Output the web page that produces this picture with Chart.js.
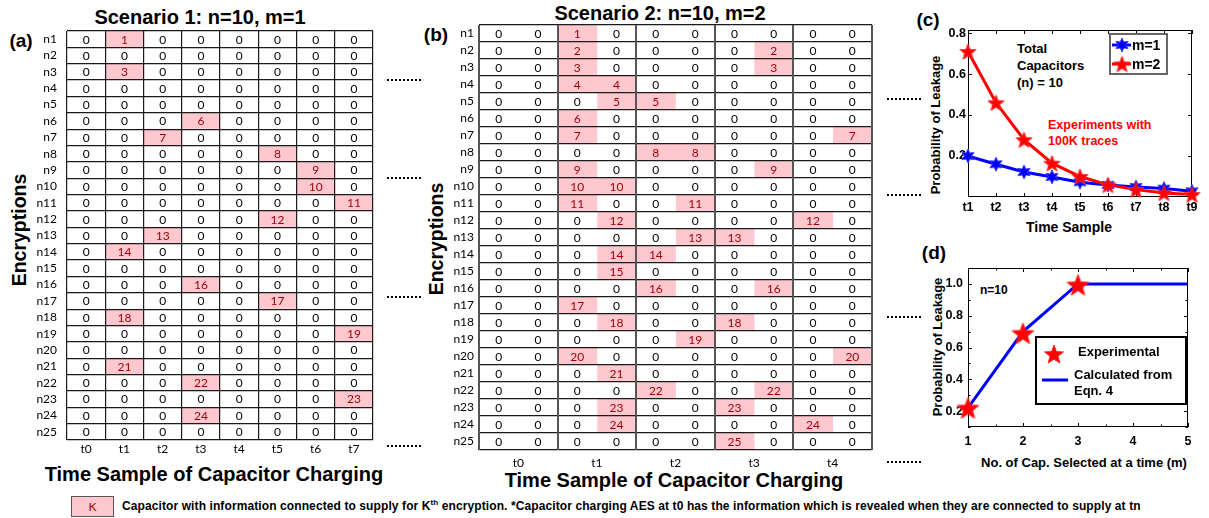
<!DOCTYPE html>
<html>
<head>
<meta charset="utf-8">
<title>Capacitor leakage scenarios</title>
<script src="https://cdn.jsdelivr.net/npm/chart.js@4.4.1/dist/chart.umd.min.js"></script>
<style>
  body { margin: 0; background: #fff; }
  #page { position: relative; width: 1209px; height: 518px; overflow: hidden; font-family: "Liberation Sans", Arial, sans-serif; }
  .box { position: absolute; }
  .t { position: absolute; white-space: nowrap; font-weight: bold; color: #000; line-height: 1; }
  .mid { transform: translate(-50%, -50%); }
  .rot { transform: translate(-50%, -50%) rotate(-90deg); }
  .lft { transform: translateY(-50%); }
  .dots { position: absolute; width: 34px; height: 0; border-top: 2px dotted #000; }
</style>
</head>
<body>
<div id="page">

  <!-- titles and panel letters -->
  <div class="t mid" style="left:200px;top:17px;font-size:20px">Scenario 1: n=10, m=1</div>
  <div class="t mid" style="left:660px;top:13px;font-size:20px">Scenario 2: n=10, m=2</div>
  <div class="t mid" style="left:21px;top:40px;font-size:19px">(a)</div>
  <div class="t mid" style="left:436px;top:34px;font-size:19px">(b)</div>
  <div class="t mid" style="left:928px;top:19px;font-size:19px">(c)</div>
  <div class="t mid" style="left:934px;top:252px;font-size:19px">(d)</div>

  <!-- axis titles -->
  <div class="t rot" style="left:20px;top:230px;font-size:19.5px">Encryptions</div>
  <div class="t rot" style="left:437px;top:239px;font-size:19.5px">Encryptions</div>
  <div class="t mid" style="left:214px;top:474px;font-size:20px">Time Sample of Capacitor Charging</div>
  <div class="t mid" style="left:674px;top:480px;font-size:20px">Time Sample of Capacitor Charging</div>
  <div class="t rot" style="left:935px;top:125px;font-size:13px">Probability of Leakage</div>
  <div class="t mid" style="left:1069px;top:227px;font-size:14px">Time Sample</div>
  <div class="t rot" style="left:937px;top:347px;font-size:13px">Probability of Leakage</div>
  <div class="t mid" style="left:1084px;top:462px;font-size:13px">No. of Cap. Selected at a time (m)</div>

  <!-- annotations -->
  <div class="t" style="left:1017px;top:40px;font-size:13px;line-height:17px">Total<br>Capacitors<br>(n) = 10</div>
  <div class="t" style="left:1048px;top:118px;font-size:12.5px;line-height:15.5px;color:#ff0000">Experiments with<br>100K traces</div>
  <div class="t lft" style="left:980px;top:290px;font-size:12px">n=10</div>

  <!-- dotted continuation marks -->
  <div class="dots" style="left:387px;top:79px"></div>
  <div class="dots" style="left:387px;top:177px"></div>
  <div class="dots" style="left:387px;top:296px"></div>
  <div class="dots" style="left:387px;top:445px"></div>
  <div class="dots" style="left:887px;top:98px"></div>
  <div class="dots" style="left:887px;top:194px"></div>
  <div class="dots" style="left:887px;top:316px"></div>
  <div class="dots" style="left:887px;top:461px"></div>

  <!-- bottom key -->
  <div class="box" style="left:71px;top:496px;width:41px;height:19px;background:#ffc7ce;border:1px solid #555;color:#9c0006;font:12px Lato;text-align:center;line-height:19px">K</div>
  <div class="t lft" style="left:122px;top:505px;font-size:12px;letter-spacing:0.1px">Capacitor with information connected to supply for K<sup style="font-size:8px">th</sup> encryption. *Capacitor charging AES at t0 has the information which is revealed when they are connected to supply at tn</div>

  <!-- charts -->
  <div class="box" style="left:37px;top:29px;width:338px;height:431px"><canvas id="tableA"></canvas></div>
  <div class="box" style="left:449px;top:23px;width:425px;height:449px"><canvas id="tableB"></canvas></div>
  <div class="box" style="left:938px;top:23px;width:264px;height:192px"><canvas id="chartC"></canvas></div>
  <div class="box" style="left:938px;top:263px;width:258px;height:186px"><canvas id="chartD"></canvas></div>
</div>

<script>
// ---- table data ----
const rowLabels = ['n1','n2','n3','n4','n5','n6','n7','n8','n9','n10','n11','n12','n13',
                   'n14','n15','n16','n17','n18','n19','n20','n21','n22','n23','n24','n25'];

// scenario 1: column (t index) where encryption k is revealed, -1 = none
const colsA = ['t0','t1','t2','t3','t4','t5','t6','t7'];
const leakA = [1,-1,1,-1,-1,3,2,5,6,6,7,5,2,1,-1,3,5,1,7,-1,1,3,7,3,-1];

// scenario 2: two capacitor columns per time sample
const colsB = ['t0','t1','t2','t3','t4'];
const leakB1 = [2,2,2,2,3,2,2,4,2,2,2,3,5,3,3,4,2,3,5,2,3,4,3,3,6];
const leakB2 = [-1,7,7,3,4,-1,9,5,7,3,5,8,6,4,-1,7,-1,6,-1,9,-1,7,6,8,-1];

// ---- panel (c) ----
const timeLabels = ['t1','t2','t3','t4','t5','t6','t7','t8','t9'];
const leakM1 = [0.20, 0.16, 0.122, 0.098, 0.072, 0.059, 0.049, 0.041, 0.028];
const leakM2 = [0.71, 0.46, 0.28, 0.165, 0.10, 0.059, 0.036, 0.02, 0.012];

// ---- panel (d) ----
const capSel = [1, 2, 3, 4, 5];
const leakCalc = [0.22, 0.70, 1.0, 1.0, 1.0];
const capExp = [1, 2, 3];
const leakExp = [0.22, 0.69, 0.995];

const PINK = '#ffc7ce';
const DARKRED = '#9c0006';

Chart.defaults.font.family = '"Liberation Sans", Arial, sans-serif';
Chart.defaults.color = '#000';

// filled star marker, points = 5 (pentagram) or 6 (hexagram)
function starImage(r, points, inner, fill, edge) {
    const cv = document.createElement('canvas');
    const s = Math.ceil(r * 2 + 4);
    cv.width = s; cv.height = s;
    const g = cv.getContext('2d');
    g.translate(s / 2, s / 2 + (points === 5 ? r * 0.1 : 0));
    g.beginPath();
    for (let i = 0; i < points * 2; i++) {
        const rr = i % 2 === 0 ? r : r * inner;
        const a = -Math.PI / 2 + i * Math.PI / points;
        g.lineTo(rr * Math.cos(a), rr * Math.sin(a));
    }
    g.closePath();
    g.fillStyle = fill; g.fill();
    g.lineWidth = 1; g.strokeStyle = edge; g.stroke();
    return cv;
}

// fixed axis sizes so the plot areas land where they should
function fixX(h) {
    return s => { s.height = h; s.paddingLeft = 0; s.paddingRight = 0; };
}
function fixY(w) {
    return s => { s.width = w; s.paddingTop = 0; s.paddingBottom = 0; };
}

// numbers inside the table cells
const cellText = {
    id: 'cellText',
    afterDatasetsDraw(chart) {
        const ctx = chart.ctx;
        ctx.save();
        ctx.font = '12px Lato';
        ctx.textAlign = 'center';
        ctx.textBaseline = 'middle';
        chart.data.datasets.forEach((ds, di) => {
            chart.getDatasetMeta(di).data.forEach((bar, ri) => {
                const v = ds.cellValues[ri];
                const p = bar.getCenterPoint();
                ctx.fillStyle = v ? DARKRED : '#000';
                ctx.fillText(String(v), p.x, p.y + 0.5);
            });
        });
        ctx.restore();
    }
};

function tableDatasets(nCols, leaks) {
    const sets = [];
    for (let c = 0; c < nCols; c++) {
        const vals = rowLabels.map((r, i) => leaks.some(l => l[i] === c) ? i + 1 : 0);
        sets.push({
            data: vals.map(() => 1),
            cellValues: vals,
            backgroundColor: vals.map(v => v ? PINK : '#ffffff'),
            borderWidth: 0
        });
    }
    return sets;
}

function makeTable(id, nCols, leaks, colLabels, opt) {
    new Chart(document.getElementById(id), {
        type: 'bar',
        data: { labels: rowLabels, datasets: tableDatasets(nCols, leaks) },
        options: {
            indexAxis: 'y',
            animation: false,
            responsive: true,
            maintainAspectRatio: false,
            events: [],
            layout: { padding: { top: 2, right: 2, left: 0, bottom: 0 } },
            plugins: { legend: { display: false }, tooltip: { enabled: false } },
            datasets: { bar: { barPercentage: 1, categoryPercentage: 1 } },
            scales: {
                x: {
                    type: 'linear', position: 'top', stacked: true, min: 0, max: nCols,
                    display: false
                },
                xc: {
                    type: 'category', labels: colLabels, position: 'bottom', offset: true,
                    grid: { offset: true, drawTicks: false, color: opt.colColor, lineWidth: opt.colLine, z: 2 },
                    border: { display: false },
                    ticks: { font: { family: 'Lato', size: 12 }, color: '#000', padding: opt.tickPad, maxRotation: 0, autoSkip: false },
                    afterFit: fixX(opt.xH)
                },
                y: {
                    type: 'category', stacked: true, offset: true,
                    grid: { offset: true, drawTicks: false, color: '#1a1a1a', lineWidth: 1.2, z: 1 },
                    border: { display: false },
                    ticks: { font: { family: 'Lato', size: 12 }, color: '#000', padding: opt.rowPad, autoSkip: false },
                    afterFit: fixY(30)
                }
            }
        },
        plugins: [cellText]
    });
}

makeTable('tableA', colsA.length, [leakA], colsA, { colLine: 1.2, colColor: '#1a1a1a', tickPad: 2, xH: 20, rowPad: 10 });
makeTable('tableB', colsB.length * 2, [leakB1, leakB2], colsB, { colLine: 2, colColor: '#555', tickPad: 6, xH: 22, rowPad: 5 });

// box around plot with inward ticks (matlab look)
const boxTicks = {
    id: 'boxTicks',
    beforeDatasetsDraw(chart, args, opts) {
        const { ctx, chartArea: a, scales: { x, y } } = chart;
        ctx.save();
        ctx.strokeStyle = '#000';
        ctx.lineWidth = 1;
        ctx.strokeRect(Math.round(a.left) + 0.5, Math.round(a.top) + 0.5, Math.round(a.width) - 1, Math.round(a.height) - 1);
        ctx.beginPath();
        const xt = x.ticks.map(t => [t.value, 4]).concat((opts.minorX || []).map(v => [v, 2.5]));
        const yt = y.ticks.map(t => [t.value, 4]).concat((opts.minorY || []).map(v => [v, 2.5]));
        xt.forEach(([v, len]) => {
            const px = Math.round(x.getPixelForValue(v)) + 0.5;
            ctx.moveTo(px, a.bottom); ctx.lineTo(px, a.bottom - len);
            ctx.moveTo(px, a.top); ctx.lineTo(px, a.top + len);
        });
        yt.forEach(([v, len]) => {
            const py = Math.round(y.getPixelForValue(v)) + 0.5;
            ctx.moveTo(a.left, py); ctx.lineTo(a.left + len, py);
            ctx.moveTo(a.right, py); ctx.lineTo(a.right - len, py);
        });
        ctx.stroke();
        ctx.restore();
    }
};

const tickFont = { weight: 'bold', size: 12.5 };

// ---- panel (c) ----
const starBlueC = starImage(7, 6, 0.5, '#0000ff', '#3a3aff');
const starRedC = starImage(8.5, 5, 0.42, '#ff0000', '#ff2a2a');

const legendC = {
    id: 'legendC',
    afterDraw(chart) {
        const { ctx, chartArea: a } = chart;
        const x = a.left + 142, y = a.top + 4, w = 57, h = 40;
        ctx.save();
        ctx.fillStyle = '#fff';
        ctx.fillRect(x, y, w, h);
        ctx.strokeStyle = '#666';
        ctx.lineWidth = 2;
        ctx.strokeRect(x, y, w, h);
        chart.data.datasets.forEach((ds, i) => {
            const ly = y + 11 + i * 19;
            ctx.strokeStyle = ds.borderColor;
            ctx.lineWidth = 3;
            ctx.beginPath(); ctx.moveTo(x + 2, ly); ctx.lineTo(x + 21, ly); ctx.stroke();
            ctx.drawImage(ds.pointStyle, x + 12 - ds.pointStyle.width / 2, ly - ds.pointStyle.height / 2);
            ctx.fillStyle = '#000';
            ctx.font = 'bold 14px "Liberation Sans"';
            ctx.textBaseline = 'middle';
            ctx.fillText(ds.label, x + 22, ly + 1);
        });
        ctx.restore();
    }
};

new Chart(document.getElementById('chartC'), {
    type: 'line',
    data: {
        labels: timeLabels,
        datasets: [
            { label: 'm=1', data: leakM1, borderColor: '#0000ff', borderWidth: 3, pointStyle: starBlueC, order: 1, clip: false },
            { label: 'm=2', data: leakM2, borderColor: '#ff0000', borderWidth: 3, pointStyle: starRedC, order: 0, clip: false }
        ]
    },
    options: {
        animation: false, responsive: true, maintainAspectRatio: false, events: [],
        layout: { padding: { top: 6, right: 10, left: 0, bottom: 0 } },
        plugins: { legend: { display: false }, tooltip: { enabled: false } },
        scales: {
            x: {
                type: 'category', offset: false,
                grid: { display: false, drawTicks: false }, border: { display: false },
                ticks: { font: tickFont, color: '#000', padding: 3, maxRotation: 0, autoSkip: false },
                afterFit: fixX(18)
            },
            y: {
                min: 0, max: 0.815,
                grid: { display: false, drawTicks: false }, border: { display: false },
                afterBuildTicks: s => { s.ticks = [0.2, 0.4, 0.6, 0.8].map(v => ({ value: v })); },
                ticks: { font: tickFont, color: '#000', padding: 2, callback: v => v.toFixed(1) },
                afterFit: fixY(30)
            }
        }
    },
    plugins: [boxTicks, legendC]
});

// ---- panel (d) ----
const starRedD = starImage(11.5, 5, 0.42, '#ff0000', '#ff2a2a');
const starRedLeg = starImage(10, 5, 0.42, '#ff0000', '#ff2a2a');

const legendD = {
    id: 'legendD',
    afterDraw(chart) {
        const { ctx, chartArea: a } = chart;
        const x = a.left + 68, y = a.top + 69, w = 150, h = 67;
        ctx.save();
        ctx.fillStyle = '#fff';
        ctx.fillRect(x, y, w, h);
        ctx.strokeStyle = '#000';
        ctx.lineWidth = 2;
        ctx.strokeRect(x, y, w, h);
        ctx.drawImage(starRedLeg, x + 18 - starRedLeg.width / 2, y + 17 - starRedLeg.height / 2);
        ctx.strokeStyle = '#0000ff';
        ctx.lineWidth = 3;
        ctx.beginPath(); ctx.moveTo(x + 6, y + 43); ctx.lineTo(x + 32, y + 43); ctx.stroke();
        ctx.fillStyle = '#000';
        ctx.font = 'bold 13px "Liberation Sans"';
        ctx.textBaseline = 'middle';
        ctx.fillText('Experimental', x + 42, y + 15);
        ctx.fillText('Calculated from', x + 38, y + 38);
        ctx.fillText('Eqn. 4', x + 38, y + 54);
        ctx.restore();
    }
};

new Chart(document.getElementById('chartD'), {
    type: 'line',
    data: {
        datasets: [
            { label: 'Experimental', data: capExp.map((v, i) => ({ x: v, y: leakExp[i] })), showLine: false,
              pointStyle: starRedD, order: 0, clip: false },
            { label: 'Calculated from Eqn. 4', data: capSel.map((v, i) => ({ x: v, y: leakCalc[i] })),
              borderColor: '#0000ff', borderWidth: 3, pointRadius: 0, order: 1, clip: false }
        ]
    },
    options: {
        animation: false, responsive: true, maintainAspectRatio: false, events: [],
        layout: { padding: { top: 4, right: 8, left: 0, bottom: 0 } },
        plugins: {
            legend: { display: false }, tooltip: { enabled: false },
            boxTicks: { minorX: [1.5, 2.5, 3.5, 4.5], minorY: [0.1, 0.3, 0.5, 0.7, 0.9, 1.1] }
        },
        scales: {
            x: {
                type: 'linear', min: 1, max: 5,
                grid: { display: false, drawTicks: false }, border: { display: false },
                ticks: { stepSize: 1, font: tickFont, color: '#000', padding: 7 },
                afterFit: fixX(22)
            },
            y: {
                min: 0.1, max: 1.1,
                grid: { display: false, drawTicks: false }, border: { display: false },
                afterBuildTicks: s => { s.ticks = [0.2, 0.4, 0.6, 0.8, 1.0].map(v => ({ value: v })); },
                ticks: { font: tickFont, color: '#000', padding: 5, callback: v => v.toFixed(1) },
                afterFit: fixY(30)
            }
        }
    },
    plugins: [boxTicks, legendD]
});
</script>
</body>
</html>
